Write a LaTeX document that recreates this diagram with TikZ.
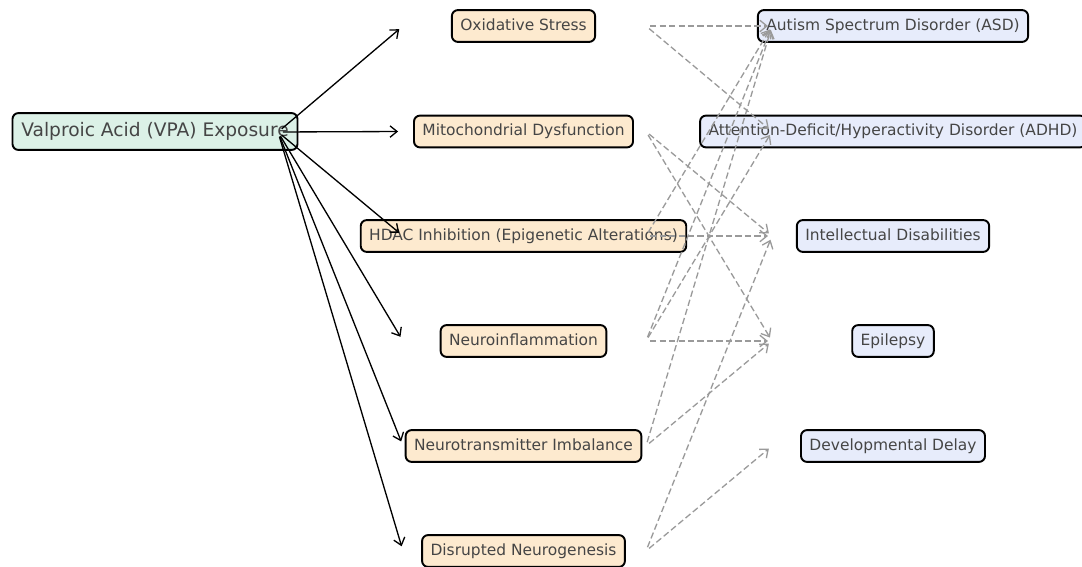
\documentclass[tikz,border=0pt]{standalone}
\usepackage{fontspec}
\setmainfont{DejaVu Sans}
\usetikzlibrary{arrows.meta}
\definecolor{srcfill}{HTML}{DCF1E7}
\definecolor{mechfill}{HTML}{FDEACF}
\definecolor{outfill}{HTML}{E7ECFB}
\definecolor{labeltext}{HTML}{454545}
\definecolor{linkgray}{HTML}{9A9A9A}
\tikzset{
  box/.style={draw=black, line width=1.1pt, rounded corners=3.4pt, text=labeltext,
    inner xsep=4.8pt, inner ysep=0pt, minimum height=18.1pt,
    text height=6.6pt, text depth=1.9pt, font=\fontsize{8.8}{10}\selectfont},
  src/.style={box, fill=srcfill, minimum height=21pt, inner xsep=5pt,
    text height=8pt, text depth=2.3pt, font=\fontsize{10.6}{12}\selectfont},
  mech/.style={box, fill=mechfill},
  outc/.style={box, fill=outfill},
  cause/.style={-{Straight Barb[length=4pt,width=6.5pt]}, line width=0.75pt,
    shorten >=2.8pt, shorten <=2.8pt},
  link/.style={-{Straight Barb[length=4pt,width=6.5pt]}, line width=0.75pt,
    color=linkgray, dash pattern=on 3.6pt off 1.8pt, shorten >=2.3pt, shorten <=2.3pt},
}
\begin{document}
\begin{tikzpicture}[x=0.02cm, y=-0.02cm]
\def\xsrc{278}
\def\xin{403}
\def\xmech{523.5}
\def\xout{646}
\def\xdis{772}
\def\xoutc{893}
\useasboundingbox (0,0) rectangle (1082,567);

% exposure and mechanisms
\node[src] (vpa) at (155,131.5) {Valproic Acid (VPA) Exposure};
\node[mech] (ox) at (\xmech,26) {Oxidative Stress};
\node[mech] (mito) at (\xmech,131.5) {Mitochondrial Dysfunction};
\node[mech] (hdac) at (\xmech,236) {HDAC Inhibition (Epigenetic Alterations)};
\node[mech] (neuro) at (\xmech,341) {Neuroinflammation};
\node[mech] (nt) at (\xmech,446) {Neurotransmitter Imbalance};
\node[mech] (dn) at (\xmech,551) {Disrupted Neurogenesis};

% outcomes
\node[outc] (asd) at (\xoutc,26) {Autism Spectrum Disorder (ASD)};
\node[outc] (adhd) at (\xoutc,131.5) {Attention-Deficit/Hyperactivity Disorder (ADHD)};
\node[outc] (id) at (\xoutc,236) {Intellectual Disabilities};
\node[outc] (epi) at (\xoutc,341) {Epilepsy};
\node[outc] (dd) at (\xoutc,446) {Developmental Delay};

% edge ends
\coordinate (vpa-o) at (\xsrc,132);
\foreach \n/\y in {ox/26,mito/131.5,hdac/236,neuro/341,nt/446,dn/551}{
  \coordinate (\n-i) at (\xin,\y);
  \coordinate (\n-o) at (\xout,\y);
}
\foreach \n/\y in {asd/26,adhd/131.5,id/236,epi/341,dd/446}
  \coordinate (\n-i) at (\xdis,\y);

% edges
\foreach \n in {ox,mito,hdac,neuro,nt,dn}
  \path[cause] (vpa-o) edge (\n-i);
\path[link] (ox-o) edge (asd-i) edge (adhd-i); % oxidative stress to ...
\path[link] (mito-o) edge (id-i) edge (epi-i);
\path[link] (hdac-o) edge (asd-i) edge (id-i);
\path[link] (neuro-o) edge (asd-i) edge (adhd-i) edge (epi-i);
\path[link] (nt-o) edge (asd-i) edge (epi-i);
\path[link] (dn-o) edge (id-i) edge (dd-i);
\end{tikzpicture}
\end{document}
